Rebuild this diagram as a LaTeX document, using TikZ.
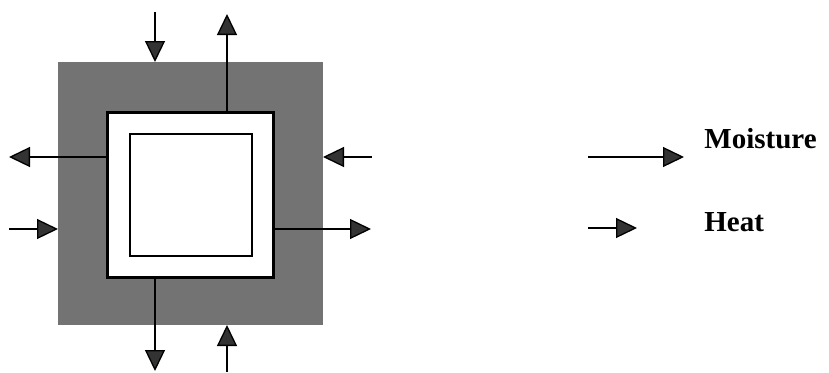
\documentclass[tikz,border=0pt]{standalone}
\usepackage{fontspec}
\setmainfont{Liberation Serif}
\usetikzlibrary{arrows.meta}

\tikzset{
	flow/.style={line width=1.3pt,
		-{Triangle[length=21pt,width=20pt,fill=black!80]}},
	layer/.style={inner sep=0pt, outer sep=0pt, anchor=north west},
	legendtext/.style={anchor=base west, inner sep=0pt,
		font=\fontsize{29}{34}\selectfont\bfseries}
}

\begin{document}
\begin{tikzpicture}[x=1pt,y=-1pt,line width=0.8pt]
	
	\useasboundingbox (0,0) rectangle (829,372);
	
	% wet shaded layer, wall, cavity
	\node[layer, fill=black!55, minimum width=265pt, minimum height=263pt] (outer) at (58,62) {};
	\node[layer, draw, line width=3pt, fill=white, minimum width=166pt, minimum height=165pt] (wall) at (107,112) {};
	\node[layer, draw, line width=1.5pt, minimum width=122pt, minimum height=122pt] (inner) at (130,134) {};
	
	% free ends
	\coordinate (tin) at (155,12);
	\coordinate (tout) at (227,14);
	\coordinate (lout) at (9,157);
	\coordinate (lin) at (9,229);
	\coordinate (rin) at (372,157);
	\coordinate (rout) at (371,229);
	\coordinate (bout) at (155,371);
	\coordinate (bin) at (227,372);
	
	\draw[flow] (tin) -- (outer.north -| tin);
	\draw[flow] (wall.north -| tout) -- (tout);
	\draw[flow] (wall.west |- lout) -- (lout);
	\draw[flow] (lin) -- (outer.west |- lin);
	\draw[flow] (rin) -- (outer.east |- rin);
	\draw[flow] (wall.east |- rout) -- (rout);
	\draw[flow] (wall.south -| bout) -- (bout);
	\draw[flow] (bin) -- (outer.south -| bin);
	
	% legend
	\node[legendtext] (moist) at (704,148) {Moisture};
	\node[legendtext] (heat) at (704,231) {Heat};
	
	\coordinate (ma) at (588,157);
	\coordinate (mb) at (684,157);
	\coordinate (ha) at (588,228);
	\coordinate (hb) at (637,228);
	
	\draw[flow] (ma) -- (mb);
	\draw[flow] (ha) -- (hb);
	
\end{tikzpicture}
\end{document}
